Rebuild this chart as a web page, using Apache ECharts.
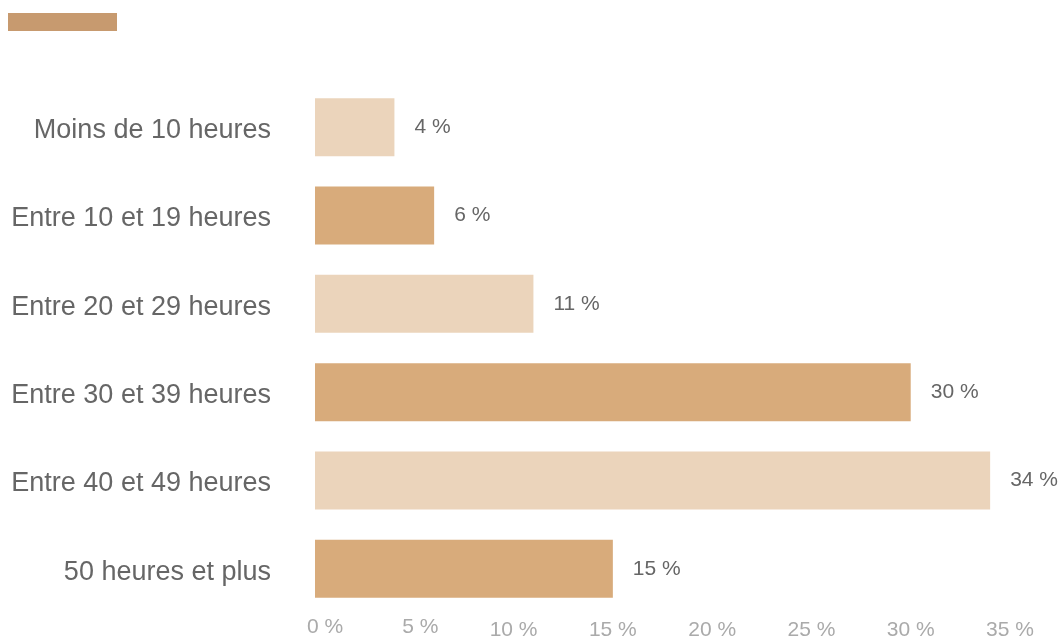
<!DOCTYPE html>
<html>
<head>
<meta charset="utf-8">
<script src="https://cdn.jsdelivr.net/npm/echarts@6/dist/echarts.min.js"></script>
<style>html,body{margin:0;padding:0;background:#fff;}#c{width:1058px;height:641px;}</style>
</head>
<body>
<div id="c"></div>
<script>
var categories = ['Moins de 10 heures', 'Entre 10 et 19 heures', 'Entre 20 et 29 heures', 'Entre 30 et 39 heures', 'Entre 40 et 49 heures', '50 heures et plus'];
var values = [4, 6, 11, 30, 34, 15];
var tickValues = [0, 5, 10, 15, 20, 25, 30, 35];

var light = '#ebd4bb', dark = '#d8ab7b';
var chart = echarts.init(document.getElementById('c'));
var FONT = '"Liberation Sans", Arial, Helvetica, sans-serif';
chart.setOption({
  animation: false,
  textStyle: { fontFamily: FONT },
  legend: {
    left: 8, top: 13, padding: 0, itemWidth: 109, itemHeight: 18, icon: 'rect',
    data: [' '], textStyle: { fontSize: 1 }
  },
  grid: { left: 315, right: 48, top: 83, bottom: 27, containLabel: false },
  xAxis: {
    type: 'value', min: tickValues[0], max: tickValues[tickValues.length - 1], interval: tickValues[1] - tickValues[0],
    axisLine: { show: false }, axisTick: { show: false }, splitLine: { show: false },
    axisLabel: {
      margin: 4,
      formatter: function (v) {
        if (v === 0) return '{p0|0 %}';
        if (v === 5) return '{p5|5 %}';
        return '{n|' + v + ' %}';
      },
      rich: {
        p0: { fontSize: 21, color: '#aaaaaa', fontFamily: FONT, padding: [0, 0, 0, 20] },
        p5: { fontSize: 21, color: '#aaaaaa', fontFamily: FONT, padding: [0, 0, 0, 12] },
        n: { fontSize: 21, color: '#aaaaaa', fontFamily: FONT, padding: [3, 0, 0, 0] }
      }
    }
  },
  yAxis: {
    type: 'category', data: categories, inverse: true,
    axisLine: { show: false }, axisTick: { show: false },
    axisLabel: {
      margin: 44,
      formatter: function (v) { return '{c|' + v + '}'; },
      rich: { c: { fontSize: 27, color: '#666666', fontFamily: FONT, padding: [7, 0, 0, 0] } }
    }
  },
  series: [{
    name: ' ', type: 'bar', barWidth: 58,
    itemStyle: { color: '#c79a6f' },
    data: values.map(function (v, i) {
      return { value: v, itemStyle: { color: i % 2 === 0 ? light : dark } };
    }),
    label: {
      show: true, position: 'right', distance: 20,
      formatter: function (p) { return p.value + ' %'; },
      fontSize: 21, color: '#666666', fontFamily: FONT
    }
  }]
});
</script>
</body>
</html>
